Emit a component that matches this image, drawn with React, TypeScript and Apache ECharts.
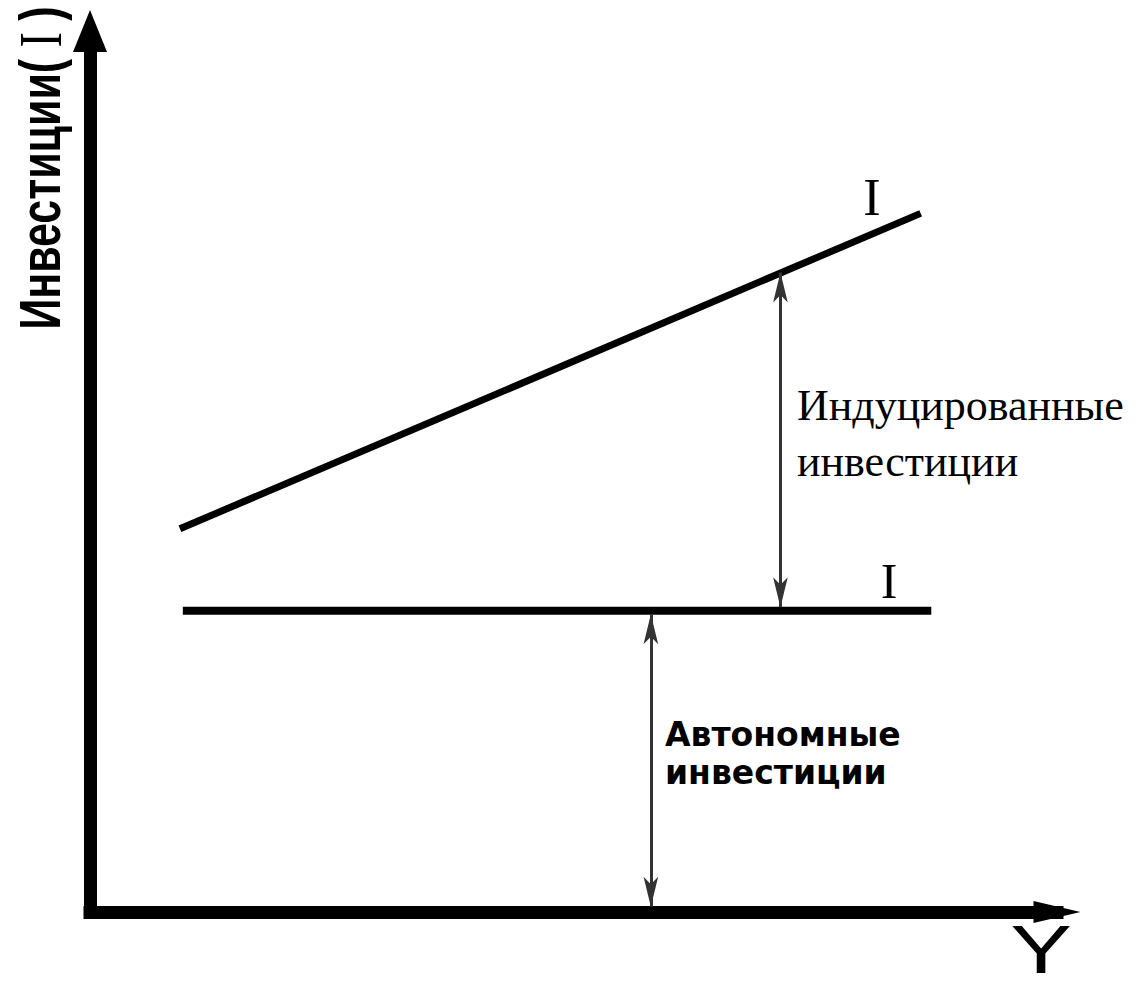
import React, { useEffect, useRef } from "react";
import * as echarts from "echarts";

// ---- data (value units of the hidden axes, 0..100) ----
const X_RANGE = [0, 100];
const Y_RANGE = [0, 100];
const inducedLine: number[][] = [[9.3, 43.5], [85.9, 79.3]];
const autonomousLine: number[][] = [[9.6, 34.2], [87.0, 34.2]];
// vertical double arrows: x position, from-value, to-value
const inducedArrow = [71.4, 34.6, 72.6];
const autonomousArrow = [58.0, 0.6, 33.8];

const yAxisTitleParts = ["Инвестиции(", " I ", ")"];
const xAxisTitle = "Y";
const curveLabel = "I";
const inducedText = ["Индуцированные", "инвестиции"];
const autonomousText = ["Автономные", "инвестиции"];

const W = 1138;
const H = 990;
const GRID = { left: 90, right: 81, top: 31, bottom: 78 };
const ARROW_LEN = 30;

export default function App() {
  const ref = useRef<HTMLDivElement>(null);
  useEffect(() => {
    if (!ref.current) return;
    const chart = echarts.init(ref.current, undefined, { renderer: "svg" });
    const arrowSeg = (a: number[]) => [
      { coord: [a[0], a[1]] },
      { coord: [a[0], a[2]] },
    ];
    const serif = '"Liberation Serif", "Times New Roman", serif';
    const sans = '"Liberation Sans", Arial, sans-serif';
    chart.setOption({
      animation: false,
      backgroundColor: "#ffffff",
      grid: { ...GRID },
      xAxis: {
        type: "value",
        min: X_RANGE[0],
        max: X_RANGE[1],
        axisLine: {
          show: true,
          onZero: false,
          symbol: ["none", "triangle"],
          symbolSize: [22, 47],
          lineStyle: { color: "#000", width: 13, cap: "square" },
        },
        axisTick: { show: false },
        axisLabel: { show: false },
        splitLine: { show: false },
      },
      yAxis: {
        type: "value",
        min: Y_RANGE[0],
        max: Y_RANGE[1],
        axisLine: {
          show: true,
          onZero: false,
          symbol: ["none", "triangle"],
          symbolSize: [34, 42],
          lineStyle: { color: "#000", width: 13 },
        },
        axisTick: { show: false },
        axisLabel: { show: false },
        splitLine: { show: false },
      },
      series: [
        {
          type: "line",
          data: inducedLine,
          showSymbol: false,
          lineStyle: { color: "#000", width: 7 },
          silent: true,
        },
        {
          type: "line",
          data: autonomousLine,
          showSymbol: false,
          lineStyle: { color: "#000", width: 8 },
          silent: true,
          markLine: {
            silent: true,
            symbol: ["arrow", "arrow"],
            symbolSize: [11, ARROW_LEN],
            label: { show: false },
            lineStyle: { color: "#333", width: 3, type: "solid" },
            data: [arrowSeg(inducedArrow), arrowSeg(autonomousArrow)],
          },
        },
      ],
      graphic: [
        {
          type: "text",
          x: 40,
          y: 168,
          rotation: Math.PI / 2,
          scaleX: 0.74,
          style: {
            text: `{a|${yAxisTitleParts[0]}}{b|${yAxisTitleParts[1]}}{a|${yAxisTitleParts[2]}}`,
            fill: "#000",
            align: "center",
            verticalAlign: "middle",
            rich: {
              a: { font: `bold 58px ${sans}`, fill: "#000" },
              b: { font: `normal 62px ${serif}`, fill: "#000" },
            },
          },
        },
        {
          type: "text",
          x: 1041,
          y: 950,
          scaleX: 1.36,
          style: {
            text: xAxisTitle,
            font: `normal 68px ${sans}`,
            fill: "#000",
            align: "center",
            verticalAlign: "middle",
          },
        },
        {
          type: "text",
          x: 872,
          y: 197,
          style: {
            text: curveLabel,
            font: `normal 52px ${serif}`,
            fill: "#000",
            align: "center",
            verticalAlign: "middle",
          },
        },
        {
          type: "text",
          x: 889,
          y: 581,
          style: {
            text: curveLabel,
            font: `normal 50px ${serif}`,
            fill: "#000",
            align: "center",
            verticalAlign: "middle",
          },
        },
        {
          type: "text",
          x: 797,
          y: 405,
          style: {
            text: inducedText[0],
            font: `normal 44px ${serif}`,
            fill: "#000",
            align: "left",
            verticalAlign: "middle",
          },
        },
        {
          type: "text",
          x: 797,
          y: 461,
          style: {
            text: inducedText[1],
            font: `normal 44px ${serif}`,
            fill: "#000",
            align: "left",
            verticalAlign: "middle",
          },
        },
        {
          type: "text",
          x: 665,
          y: 734,
          style: {
            text: autonomousText[0],
            font: `bold 33px "DejaVu Sans", sans-serif`,
            fill: "#000",
            align: "left",
            verticalAlign: "middle",
          },
        },
        {
          type: "text",
          x: 665,
          y: 772,
          style: {
            text: autonomousText[1],
            font: `bold 33px "DejaVu Sans", sans-serif`,
            fill: "#000",
            align: "left",
            verticalAlign: "middle",
          },
        },
      ],
    });
    return () => chart.dispose();
  }, []);
  return (
    <div
      ref={ref}
      style={{ position: "fixed", left: 0, top: 0, width: W, height: H, background: "#fff" }}
    />
  );
}
